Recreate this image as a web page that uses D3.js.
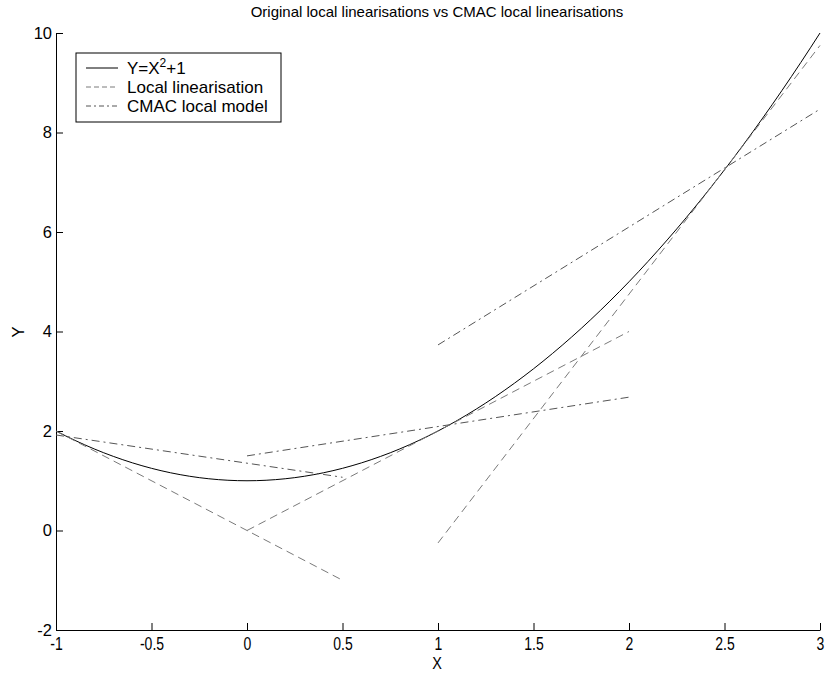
<!DOCTYPE html>
<html>
<head>
<meta charset="utf-8">
<script src="https://cdn.jsdelivr.net/npm/d3@7"></script>
<style>
  body { margin: 0; background: #fff; }
  text { font-family: "Liberation Sans", Arial, sans-serif; fill: #000; }
</style>
</head>
<body>
<svg id="chart" width="825" height="675"></svg>
<script>
// Axis ticks
const xTicks = [-1, -0.5, 0, 0.5, 1, 1.5, 2, 2.5, 3];
const yTicks = [-2, 0, 2, 4, 6, 8, 10];

// Sample points of the true function Y = X^2 + 1
const curveX = d3.range(-1, 3.0001, 0.05);
const curveY = curveX.map(x => x * x + 1);

// Local linearisations (tangents at x = -1, 1, 2.5), given by segment endpoints
const linX0 = [-1, 0, 1];
const linX1 = [0.5, 2, 3];
const linY0 = [2, 0, -0.25];
const linY1 = [-1, 4, 9.75];

// CMAC local models, segment endpoints
const cmacX0 = [-1, 0, 1];
const cmacX1 = [0.5, 2, 3];
const cmacY0 = [1.92, 1.5, 3.73];
const cmacY1 = [1.07, 2.68, 8.47];

const svg = d3.select("#chart");
const plotLeft = 56, plotRight = 820, plotTop = 33, plotBottom = 630;

const x = d3.scaleLinear().domain([-1, 3]).range([plotLeft, plotRight]);
const y = d3.scaleLinear().domain([-2, 10]).range([plotBottom, plotTop]);

// Axes (ticks point inward)
const xAxis = d3.axisBottom(x).tickValues(xTicks).tickSize(-7).tickSizeOuter(0)
  .tickFormat(d => String(d));
const yAxis = d3.axisLeft(y).tickValues(yTicks).tickSize(-7).tickSizeOuter(0)
  .tickFormat(d => String(d));

const gx = svg.append("g").attr("transform", `translate(0,${plotBottom})`).call(xAxis);
gx.select(".domain").attr("stroke", "#000").attr("stroke-width", 1);
gx.selectAll(".tick line").attr("stroke", "#000");
// tall, narrow tick labels centred on their ticks
gx.selectAll(".tick text").attr("y", 8).attr("dy", "0.71em")
  .style("font-size", "17.5px").attr("transform", "scale(0.8,1)");

const gy = svg.append("g").attr("transform", `translate(${plotLeft},0)`).call(yAxis);
gy.select(".domain").attr("stroke", "#000").attr("stroke-width", 1);
gy.selectAll(".tick line").attr("stroke", "#000");
gy.selectAll(".tick text").attr("x", -4).style("font-size", "16.5px");

// Curve
const line = d3.line().x(d => x(d[0])).y(d => y(d[1]));
svg.append("path")
  .datum(curveX.map((v, i) => [v, curveY[i]]))
  .attr("d", line).attr("fill", "none").attr("stroke", "#000").attr("stroke-width", 1);

// Local linearisations
linX0.forEach((v, i) => {
  svg.append("path")
    .datum([[v, linY0[i]], [linX1[i], linY1[i]]])
    .attr("d", line).attr("fill", "none")
    .attr("stroke", "#7a7a7a").attr("stroke-width", 1)
    .attr("stroke-dasharray", "8,5");
});

// CMAC local models
cmacX0.forEach((v, i) => {
  svg.append("path")
    .datum([[v, cmacY0[i]], [cmacX1[i], cmacY1[i]]])
    .attr("d", line).attr("fill", "none")
    .attr("stroke", "#555").attr("stroke-width", 1)
    .attr("stroke-dasharray", "8,4,2,4");
});

// Title and axis labels
svg.append("text").attr("x", 437).attr("y", 17).attr("text-anchor", "middle")
  .style("font-size", "15px").text("Original local linearisations vs CMAC local linearisations");
svg.append("text").attr("transform", "translate(437,669) scale(0.85,1)").attr("text-anchor", "middle")
  .style("font-size", "17px").text("X");
svg.append("text").attr("transform", "translate(24,332) rotate(-90)")
  .attr("text-anchor", "middle").style("font-size", "16.5px").text("Y");

// Legend
const lg = svg.append("g");
lg.append("rect").attr("x", 76).attr("y", 53).attr("width", 205).attr("height", 69)
  .attr("fill", "#fff").attr("stroke", "#000").attr("stroke-width", 1);
const legendItems = [
  { dash: null, color: "#000", y: 68 },
  { dash: "5,3", color: "#7a7a7a", y: 87 },
  { dash: "5,3,2,3", color: "#555", y: 106 }
];
legendItems.forEach(it => {
  lg.append("line").attr("x1", 86).attr("x2", 118).attr("y1", it.y).attr("y2", it.y)
    .attr("stroke", it.color).attr("stroke-width", 1)
    .attr("stroke-dasharray", it.dash);
});
const t0 = lg.append("text").attr("x", 127).attr("y", 74).style("font-size", "17px");
t0.append("tspan").text("Y=X");
t0.append("tspan").attr("dy", -7).style("font-size", "12px").text("2");
t0.append("tspan").attr("dy", 7).text("+1");
lg.append("text").attr("x", 127).attr("y", 93).style("font-size", "17px").text("Local linearisation");
lg.append("text").attr("x", 127).attr("y", 112).style("font-size", "17px").text("CMAC local model");
</script>
</body>
</html>
